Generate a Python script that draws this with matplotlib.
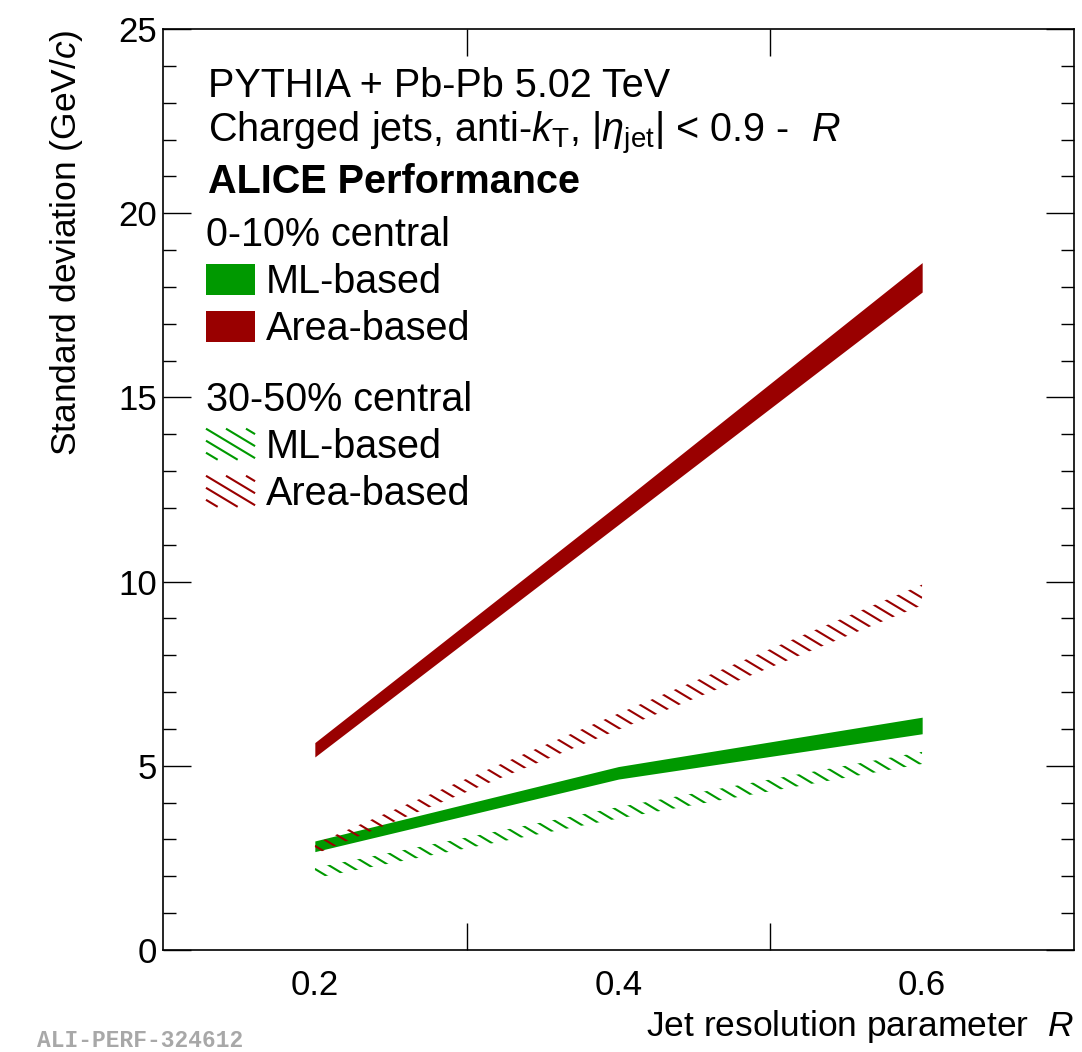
import numpy as np
import matplotlib
matplotlib.use("Agg")
import matplotlib.pyplot as plt
from matplotlib.patches import Patch
from matplotlib.collections import LineCollection
from matplotlib.transforms import IdentityTransform
from matplotlib.legend_handler import HandlerBase

# fonts (Helvetica-like)
plt.rcParams['font.family'] = ['Liberation Sans', 'DejaVu Sans']
plt.rcParams['mathtext.fontset'] = 'custom'
plt.rcParams['mathtext.rm'] = 'Liberation Sans'
plt.rcParams['mathtext.it'] = 'Liberation Sans:italic'
plt.rcParams['mathtext.bf'] = 'Liberation Sans:bold'

# data: band low / high edges
R = [0.2, 0.4, 0.6]
ml_010_lo = [2.67, 4.64, 5.87]
ml_010_hi = [2.96, 4.98, 6.32]
area_010_lo = [5.24, 11.55, 17.86]
area_010_hi = [5.63, 12.10, 18.66]
ml_3050_lo = [1.95, 3.57, 5.05]
ml_3050_hi = [2.23, 3.88, 5.38]
area_3050_lo = [2.60, 5.98, 9.36]
area_3050_hi = [2.88, 6.42, 9.92]

green = '#009900'
red = '#990000'
DPI = 100
HATCH_STEP = 20      # px between hatch lines (horizontal)
HATCH_ANGLE = np.radians(31)
HATCH_LW = 1.5


def hatch_segments(x0, y0, x1, y1, step):
    # "\" lines inside the box [x0,x1]x[y0,y1]
    t = np.tan(HATCH_ANGLE)
    run = (y1 - y0) / t
    c = np.floor((x0 - run) / step) * step
    segs = []
    while c < x1:
        xa = max(x0, c)
        xb = min(x1, c + run)
        if xb > xa:
            segs.append([(xa, y1 - t * (xa - c)), (xb, y1 - t * (xb - c))])
        c += step
    return segs


def hatch_band(ax, x, lo, hi, color):
    poly = ax.fill_between(x, lo, hi, facecolor='none', edgecolor='none', lw=0)
    path = poly.get_paths()[0]
    disp = ax.transData.transform(path.vertices)
    (x0, y0), (x1, y1) = disp.min(0), disp.max(0)
    lc = LineCollection(hatch_segments(x0, y0, x1, y1, HATCH_STEP), colors=color,
                        linewidths=HATCH_LW, transform=IdentityTransform())
    lc.set_clip_path(path, ax.transData)
    ax.add_collection(lc, autolim=False)


class HatchHandler(HandlerBase):
    def __init__(self, color):
        super().__init__()
        self.color = color

    def create_artists(self, legend, orig_handle, xdescent, ydescent, width, height,
                       fontsize, trans):
        segs = hatch_segments(-xdescent, -ydescent, -xdescent + width, -ydescent + height,
                              HATCH_STEP * 72 / DPI)
        return [LineCollection(segs, colors=self.color, linewidths=HATCH_LW, transform=trans)]


fig = plt.figure(figsize=(10.82, 10.52), dpi=DPI)
ax = fig.add_axes([163 / 1082, 1 - 950 / 1052, 911 / 1082, 921 / 1052])
ax.set_xlim(0.1, 0.7)
ax.set_ylim(0, 25)

# solid bands (0-10%)
ax.fill_between(R, ml_010_lo, ml_010_hi, color=green, lw=0)
ax.fill_between(R, area_010_lo, area_010_hi, color=red, lw=0)
# hatched bands (30-50%)
hatch_band(ax, R, ml_3050_lo, ml_3050_hi, green)
hatch_band(ax, R, area_3050_lo, area_3050_hi, red)

# ticks ROOT-style
ax.set_xticks([0.2, 0.4, 0.6])
ax.set_xticklabels(['0.2', '0.4', '0.6'])
ax.set_xticks([0.3, 0.5], minor=True)
ax.set_yticks([0, 5, 10, 15, 20, 25])
ax.set_yticks(np.arange(0, 26, 1), minor=True)
ax.tick_params(axis='both', which='both', direction='in', top=True, right=True, width=1.0)
ax.tick_params(axis='x', which='major', length=0, pad=14, labelsize=25)
ax.tick_params(axis='x', which='minor', length=19.5)
ax.tick_params(axis='y', which='major', length=20, pad=4, labelsize=25)
ax.tick_params(axis='y', which='minor', length=9.5)
for s in ax.spines.values():
    s.set_linewidth(1.2)

ax.set_ylabel('Standard deviation (GeV/$c$)', fontsize=25.5, loc='top', labelpad=24)
ax.set_xlabel('Jet resolution parameter  $R$', fontsize=25.5, loc='right', labelpad=4)

# header text
fs = 28.5
ax.text(0.0494, 0.926, 'PYTHIA + Pb-Pb 5.02 TeV', transform=ax.transAxes, fontsize=fs,
        va='baseline')
ax.text(0.0494, 0.877, r'Charged jets, anti-$k_{\mathrm{T}}$, $|\eta_{\mathrm{jet}}|$ < 0.9 -  $R$',
        transform=ax.transAxes, fontsize=fs, va='baseline')
ax.text(0.0494, 0.822, 'ALICE Performance', transform=ax.transAxes, fontsize=fs,
        fontweight='bold', va='baseline')

# legends
leg_kw = dict(loc='upper left', frameon=False, fontsize=fs, title_fontsize=fs,
              alignment='left', handlelength=1.24, handleheight=0.83, handletextpad=0.28,
              labelspacing=0.23, borderpad=0, borderaxespad=0)
h1 = [Patch(facecolor=green, edgecolor='none'), Patch(facecolor=red, edgecolor='none')]
leg1 = ax.legend(h1, ['ML-based', 'Area-based'], title='0-10% central',
                 bbox_to_anchor=(0.0472, 0.797), **leg_kw)
ax.add_artist(leg1)
h2 = [Patch(facecolor='none', edgecolor='none'), Patch(facecolor='none', edgecolor='none')]
ax.legend(h2, ['ML-based', 'Area-based'], title='30-50% central',
          bbox_to_anchor=(0.0472, 0.618),
          handler_map={h2[0]: HatchHandler(green), h2[1]: HatchHandler(red)}, **leg_kw)

fig.text(37 / 1082, 0.0, 'ALI-PERF-324612', fontsize=16.5, fontweight='bold',
         family='Liberation Mono', color='#a8a8a8', va='bottom')

fig.savefig('out.png', dpi=DPI)
